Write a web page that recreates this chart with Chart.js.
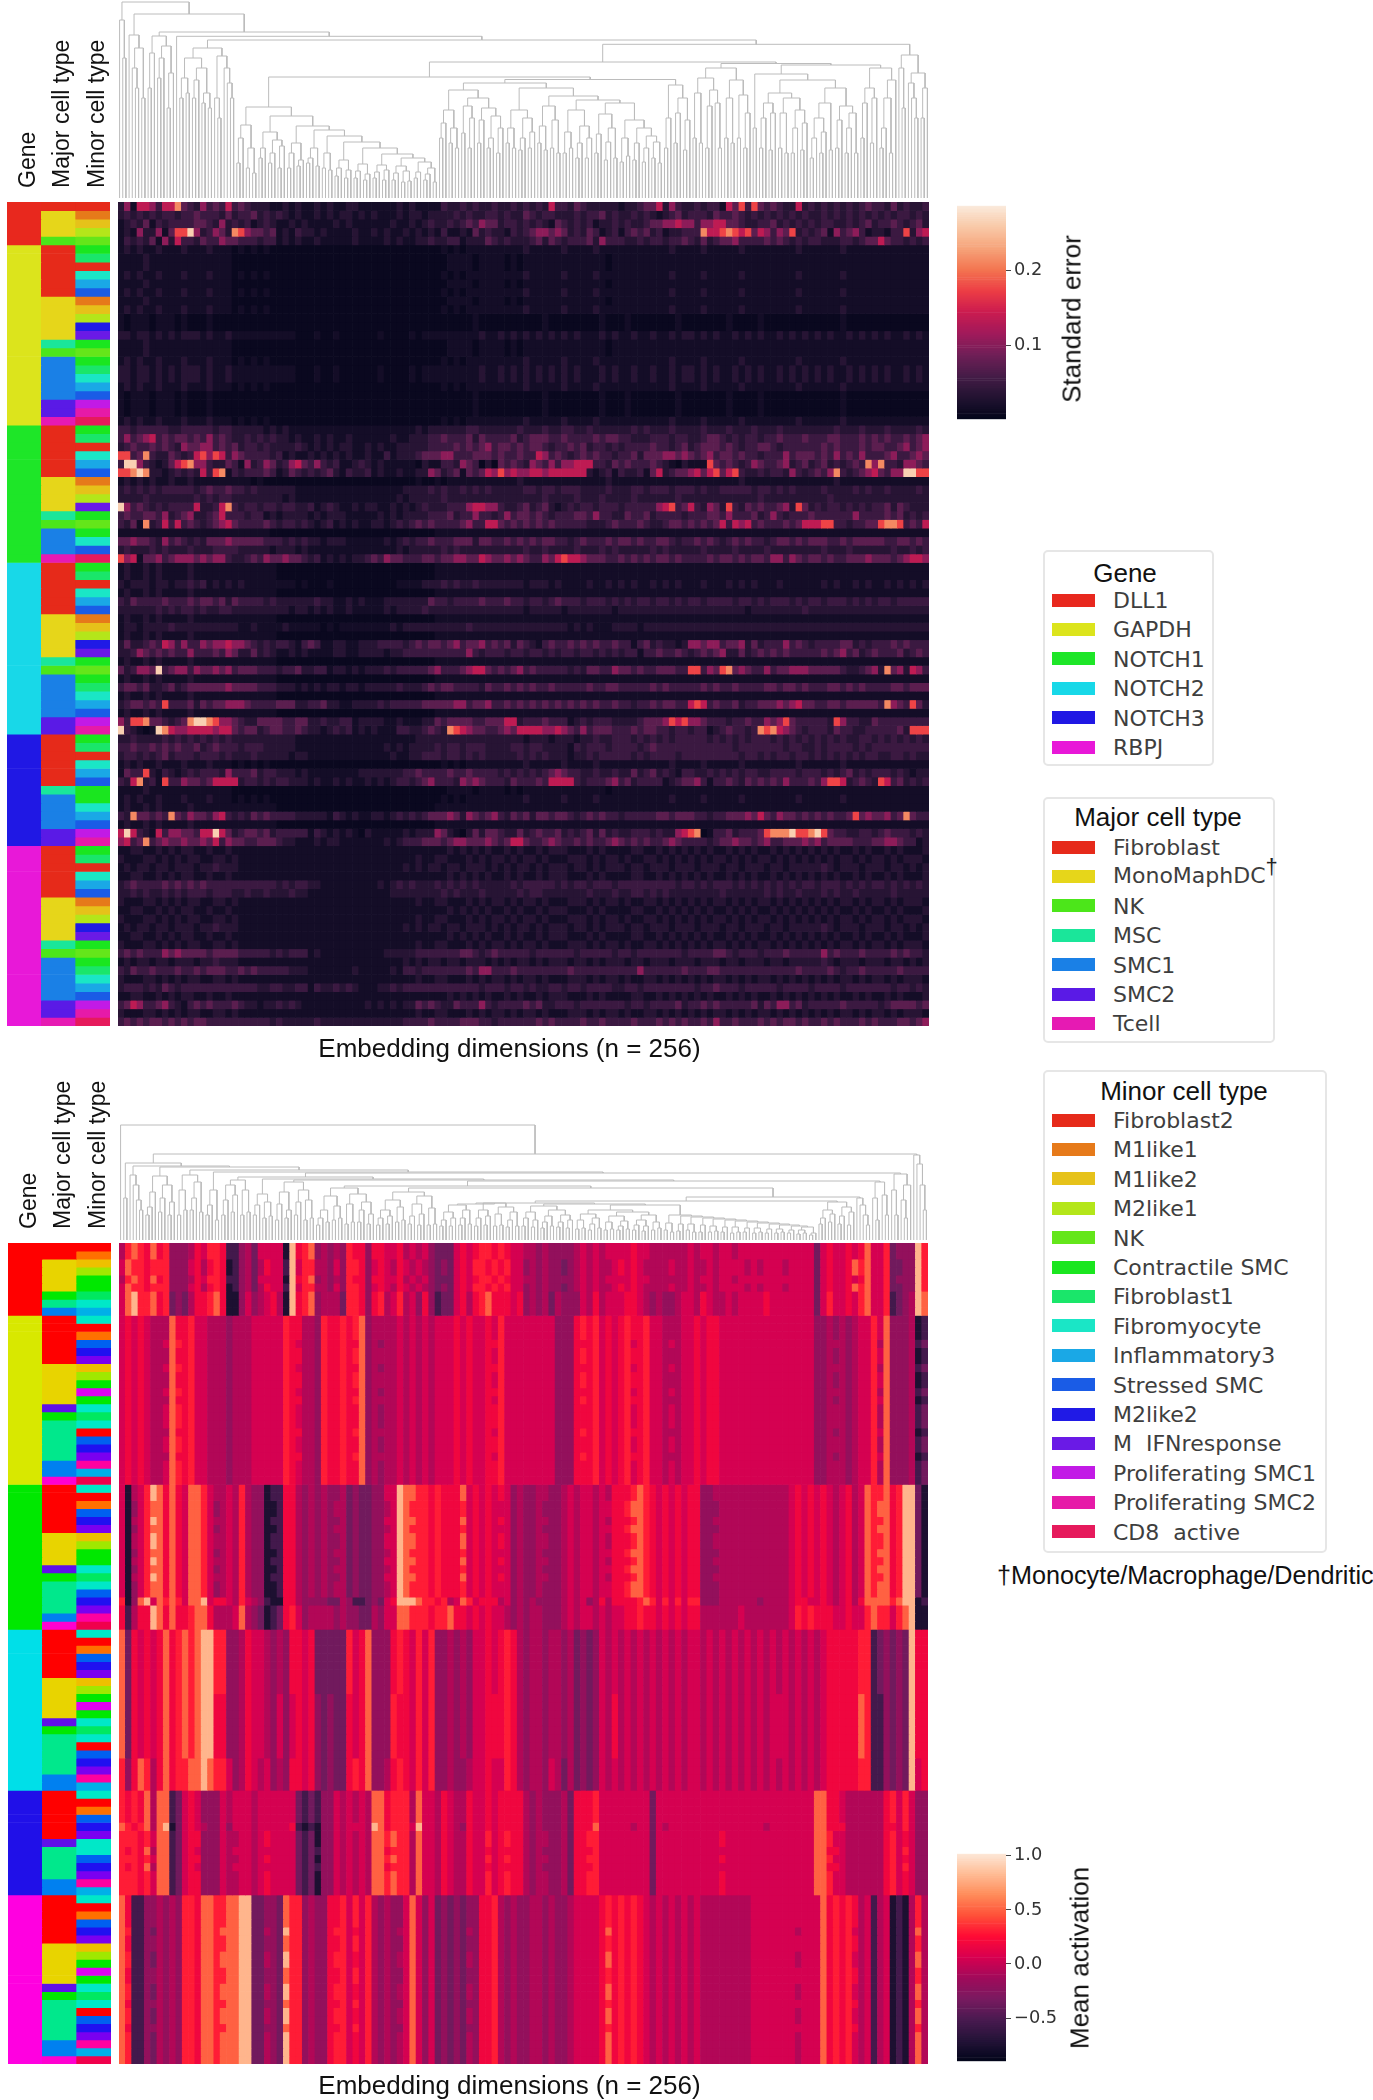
<!DOCTYPE html>
<html><head><meta charset="utf-8">
<style>
html,body{margin:0;padding:0;background:#fff;width:1373px;height:2100px;overflow:hidden}
canvas{position:absolute;display:block}
canvas.soft{filter:blur(.55px)}
.lg{position:absolute;box-sizing:border-box;border:2px solid #e6e6e6;border-radius:5px;background:#fff}
.lt{position:absolute;font:26px "Liberation Sans",Arial,sans-serif;color:#111;white-space:nowrap;transform:translate(-50%,-50%)}
.sw{position:absolute;width:43px;height:13px}
.li{position:absolute;font:22px "DejaVu Sans",sans-serif;color:#3e3e3e;white-space:pre;transform:translateY(-50%)}
.sup{font:22px "Liberation Sans",Arial,sans-serif;position:relative;top:-9px;color:#222}
.rot{position:absolute;font:26px "Liberation Sans",Arial,sans-serif;color:#111;white-space:nowrap;transform:translate(-50%,-50%) rotate(-90deg)}
.note{position:absolute;font:25.2px "Liberation Sans",Arial,sans-serif;color:#111;white-space:nowrap;transform:translateY(-50%)}
</style></head><body>
<script src="https://cdn.jsdelivr.net/npm/chart.js@4/dist/chart.umd.js"></script>
<script>
// ---------- categories ----------
const genes=["DLL1","GAPDH","NOTCH1","NOTCH2","NOTCH3","RBPJ"];
const majorTypes=["Fibroblast","MonoMaphDC","NK","MSC","SMC1","SMC2","Tcell"];
const minorTypes=["Fibroblast2","M1like1","M1like2","M2like1","NK","Contractile SMC","Fibroblast1","Fibromyocyte","Inflammatory3","Stressed SMC","M2like2","M  IFNresponse","Proliferating SMC1","Proliferating SMC2","CD8  active"];
const sideLabels=["Gene","Major cell type","Minor cell type"];
const xAxisTitle="Embedding dimensions (n = 256)";
const noteText="†Monocyte/Macrophage/Dendritic";
const geneColors=["#e8281e","#dce41c","#1ee628","#18d8e8","#2018e4","#e818d8"];
const majorColors=["#e62a1a","#e6d61a","#4ce61a","#1ae69a","#1a80e6","#5a1ae6","#e61ab3"];
const minorColors=["#e62a1a","#e67a1a","#e6c21a","#b4e61a","#64e61a","#1ae61f","#1ae66a","#1ae6c6","#1aa8e6","#1a5ce6","#201ae6","#6a1ae6","#c21ae6","#e61aa8","#e61a5c"];
const geneColorsB=["#ff0000","#d8e800","#00e800","#00dfe8","#2010e8","#ff00e0"];
const majorColorsB=["#ff0000","#e8d400","#00e800","#00e88c","#0080f0","#6010e8","#ff00d0"];
const minorColorsB=["#ff0000","#ff7000","#eec000","#a0e800","#40e800","#00e800","#00e860","#00e8c8","#00b0e8","#0060f0","#2010f0","#7a00f0","#e000f0","#ff00a0","#f0004c"];

// ---------- row annotations: top map ----------
const topGeneCounts=[5,21,16,20,13,21];
const topMajor=[0,1,1,1,2, 0,0,0,0,0,0,1,1,1,1,1,3,2,4,4,4,4,4,5,5,6, 0,0,0,0,0,0,1,1,1,1,3,2,4,4,4,6, 0,0,0,0,0,0,1,1,1,1,1,3,2,4,4,4,4,4,5,5, 0,0,0,0,0,0,3,4,4,4,4,5,5, 0,0,0,0,0,0,1,1,1,1,1,3,2,4,4,4,4,4,5,5,6];
const topMinor=[0,1,2,3,4, 5,6,0,7,8,9,1,2,3,10,11,5,4,5,6,7,8,9,12,13,14, 5,6,0,7,8,9,1,2,3,11,5,4,5,7,9,14, 5,6,0,7,8,9,1,2,3,10,11,5,4,5,6,7,8,9,12,13, 5,6,0,7,8,9,5,5,7,8,9,12,13, 5,6,0,7,8,9,1,2,3,10,11,5,4,5,6,7,8,9,12,13,14];
// ---------- row annotations: bottom map ----------
const botGeneCounts=[9,21,18,20,13,21];
const botMajor=[0,0,1,1,1,1,2,3,4, 0,0,0,0,0,0,1,1,1,1,1,5,2,3,3,3,3,3,4,4,6, 0,0,0,0,0,0,1,1,1,1,5,2,3,3,3,3,4,6, 0,0,0,0,0,0,1,1,1,1,1,5,2,3,3,3,3,3,4,4, 0,0,0,0,0,0,5,3,3,3,3,4,4, 0,0,0,0,0,0,1,1,1,1,1,5,2,3,3,3,3,3,4,4,6];
const botMinor=[0,1,2,3,5,5,6,7,8, 7,0,1,9,10,11,2,3,5,12,5,7,6,7,0,9,10,11,13,8,14, 7,0,1,9,10,11,2,3,5,5,7,6,7,9,10,11,13,14, 7,0,1,9,10,11,2,3,5,12,5,7,6,7,0,9,10,11,13,8, 7,0,1,9,10,11,7,7,9,10,11,13,8, 7,0,1,9,10,11,2,3,5,12,5,7,6,7,0,9,10,11,13,8,14];

// ---------- standard error map: estimated level per cell (0 low .. 9 high), 128 binned dimensions ----------
const seLevels=[.007,.017,.034,.05,.073,.104,.135,.175,.213,.264];
const Ga="1111211111 1111111100 0000000000 0000000000 0000000000 0011110111 1010111111 1111111011 1111111111 1111111111 1111111111 1111111111 11111111";
const Gb="1011101110 1000100000 0000000000 0000000000 0000000000 0000001000 0000000100 0000001000 1000000010 0000001000 0100000000 0000100000 00000000";
const Gc="2212212121 2221211211 1111111100 0100100000 0100001011 1111111211 2121212121 2121112121 1211211212 2121211212 1211212121 2121121212 12112121";
const Gd="1212112111 2111211101 0101000000 0000000000 0000000000 0101011111 1111211111 2111121111 1111111211 1121111121 1111111211 1111211111 11111111";
const Ha="1211212111 1211111111 1111100000 0000000000 0000000000 1111111111 1111111111 1111111111 1111111111 1111111111 1111111111 1111111111 11111111";
const Ra="1212212212 2212232221 1111111111 1111111111 1111121212 2122122212 1212212122 2122121222 1221222122 2122212212 2212212222 2321222122 21221212";
const Rb="1122112121 2211211211 1111111111 1111111111 1111111111 1121212121 1212112122 2111212111 1221121212 1212112121 2112121212 1212112121 12121112";
const Rc="2111221212 1221122121 1111111111 1111111111 1111111211 2211121212 2121221211 1222121221 2112212121 2121221212 1221212121 2121221212 21212221";
const dll1Rows=[
"2516653668 4325343634 3222112121 1212112211 1111212111 1322323223 2232323263 3243222221 2234462532 2323316473 7434322623 2323232343 32423223",
"2323232332 3343332423 3423232121 1212122121 2111212212 2223232233 2322432332 2232334232 2323212342 3332433432 3232323232 2323232323 23233232",
"1232413233 3344325232 3123211212 1111212111 1112112123 2232343544 2332323214 3232312232 3223445565 5355664432 2334232323 2332232342 33432342",
"1215225147 7952354287 5443412132 2121111211 2121121212 1311214232 2132345545 4232431231 3434231223 3386678767 4653547232 3415345312 21337256",
"1323241526 3324335443 3323312121 1211111211 1121211223 2233122243 2322234243 2333425333 2232332334 3242344533 3343432323 3222332344 64332323"];
const gapdhRows=[Gd,Ga,Ga,Gd,Ga,Gd,Ga,Gd,Gb,Gb,Gc,Ga,Ga,Gd,Gc,Gc,Gd,Gb,Gb,Gb,Gd];
const notch1Rows=[
"3323333322 3333323322 2221212111 1111111111 1111111212 2222233222 2223222322 3322322222 2323222322 2232223222 3222322222 2223222322 23222232",
"3534563434 4343534322 3232322121 1212112111 1112112223 3433342433 3342344433 4333343443 3222333233 2234432323 3233433343 3344333434 34334345",
"2343343432 5445534342 3323222232 1212122112 1211222223 3334343453 4434344323 3434233232 3333433234 2344434323 3443233333 3434333434 43345345",
"7734832243 2367576354 3333231211 2121212112 1131222344 4553334443 4334336534 3234343323 3424445545 4345344343 3233353444 3435343533 34533454",
"3995321246 7855322431 5235423564 3532311232 1211111021 1332543020 4343254353 5566633243 4333432102 1117434323 5433452342 3423234385 83325543",
"7789822123 2326378132 3334312432 3234213223 1211211225 4234143465 7565566566 6666212313 2231462344 5646746732 2323325323 4358323456 43559977",
"1212121121 1211111111 1010000000 0000000000 0000000100 1011111111 1112111111 1111111211 1111111111 1111111121 1111111111 1112111111 11111111",
"2323232333 3323433433 2322222211 1111111111 1111122223 2322323232 2222332332 3332222322 2332333233 3232233333 2332323222 2322223232 23222232",
"2222322222 2232323322 2222221211 1111111111 1111212222 2322222222 2222222322 2232223222 2322222232 2222222222 2322222222 2232222222 22222222",
"9534323233 3362236832 3323323322 3123211212 2112121232 2233356655 3223423421 2323323332 3333356734 6325427324 3433452742 3233232323 34243222",
"3433443523 4522346333 2331212222 1212221111 1212122223 3342335332 3534434323 3344353322 4334233332 3334435333 4235323334 3333335333 34342323",
"3241823636 3432345643 3334323323 2123121211 2212323434 3333453366 4343434343 3333222343 3343223443 4343463656 3433343466 6773323344 78873436",
"1111111111 1111111111 1111000000 0000000000 0000000000 1111111111 1111111111 1111111111 1111111111 1111111111 1111111111 1111111111 11111111",
"4454432534 3232444544 4443332323 2212221111 1121232334 3334442443 3434343443 3234333434 4343344323 3434323434 3323443434 4433434444 43344343",
"2322232322 2322233332 2222122212 1111111111 1111212222 2323222222 2222322322 2232223232 2222323222 2232222322 2232222222 2322232222 22322323",
"7561445345 5545455322 3435445443 2312121223 4354433344 3445544654 4545433546 7665444334 3434344343 3334344343 4435535434 4343344454 44345665"];
const notch2Rows=[Ha,Ha,
"2122212212 2323121212 1111111101 0001000000 0000111122 2323223222 2222122212 1111211212 1211212121 1121112121 2111211111 1212112121 12121212",
Ha,
"3243333433 3434434243 3332322222 2322112121 1122222224 3323333433 3433233234 3332333232 3233233232 3323333233 2323332323 3233323232 33233333",
"2222223232 3323223322 2222222122 1212112111 1121222232 2222222222 2222122222 1222222212 2222222222 2222222221 2222222232 2222222222 22222222",
Ha,
"1221222232 2222222221 1211112111 1101011111 1112122222 2222232222 2222222222 2121211122 2212222222 2222222222 2222222222 2222222222 22222222",
Ha,
"2422343653 5335455655 4323233213 4311221122 2333323434 4345344534 3424321343 3434343343 3134232212 5545534452 4233353432 3333442323 33434333",
"2235434343 3533343542 2423211212 1111221122 2212233333 3333353233 3233233232 3323323232 3313343343 2343452242 3434343333 3434534234 33342343",
Ha,
"4235549345 5354454534 4433323342 2331221212 2232333334 5333456643 4345343333 3232443354 4343344433 7735478454 3353445554 4444322345 28452653",
Ha,
"3443422342 3444444544 4433322212 1212212212 2222322234 3443333243 3434343343 3333433443 3333434333 3343433433 3344344343 3344343433 33443444",
Ha,
"2344343733 3424344555 4333344422 3342211222 2323333344 4445534453 3434343434 3434343343 3233434433 6763433423 3444545644 3344344444 38543742",
Ha,
"5377844323 4899875543 2244443344 2232233122 2211211122 4344443344 4662333433 3123233322 2234445767 5543332334 3354574333 3327533224 33333333",
"9321019865 5666656643 4423443343 2212323121 2111332234 3287654433 4546666556 5435344433 3434433233 2331234332 3878654323 3324332233 33342777"];
const notch3Rows=[
"2232222323 2323232322 2222222211 1111111111 1111111222 2222222222 2222122212 2212232233 3232323233 3332323232 3332323232 3232322332 32323232",
"3343343434 3342343332 3332222211 1111111111 1121212222 3233233322 2233233222 2132333233 3323433333 3333333233 3333323322 3233332323 33333333",
"2332323423 3323332322 2322222122 1111111111 1112112233 3233232322 2223232322 2122323333 3232333323 3333333323 3232332332 3232323233 22332322",
Gd,
"1433721321 2323332533 3423322212 1111111122 2222233433 3343343333 2323232345 4332232232 2423423213 3223232323 3223333233 3232342323 33232122",
"3268231733 5443466662 3323233222 1211212112 1212332345 3332545433 3243334366 6632333453 4233331234 4531334324 3434353334 3577623432 76342323",
Ga,Gd,Ha,
"3284434384 3544356323 2434333322 2221321211 2212323234 4454254345 3243424434 4323434332 3333344344 4332334445 4643544343 4343347454 45348433",
Ha,
"6963216355 4436696423 4434233333 1321212102 1111121222 5421024244 3224234334 2323424232 2333232256 7801334233 3478889778 9743322332 34333232",
"5634834544 5445463544 3344432211 1212211111 1121233344 4345544454 3466433454 3343433454 3434334543 3332344544 3453344454 5344443334 45543312"];
const rbpjRows=[Rb,Rc,Ra,Rb,
"2343333434 3434333333 3333323233 2211111111 1212323222 3232323222 2232333332 3233233323 3333333323 3232333232 3232323233 2333232323 32323232",
"2232322323 2333233322 3223222322 1111111111 1112222222 2323222322 2223233222 2222322232 2332323222 2222232222 2232322322 2323223222 22322222",
Rc,Rb,Rc,Ra,Rb,Rc,
"3434333545 4444344443 3333232333 1211111111 1122222333 3333443234 3333323333 3323333323 3233333332 3333443233 3233343333 3534333433 33434332",
Ra,
"3243343334 3343444334 3433333222 1111111211 1112133233 3333343553 3343333333 3433333333 3353333334 3334433333 3333333433 3343233433 33343333",
Rc,
"2333232432 3333333333 3322332233 1322323211 1223233333 3333333233 3233232233 2332333322 3323333333 3233433323 3333233332 3333233333 33233232",
Rb,
"3465334532 1343433343 2212232321 1111111112 1212122434 3224333532 3333434223 3323333333 2332333342 3343433333 4243553423 3333433333 23444434",
Rc,
"3434344343 4344333333 3333232222 2322222222 2222233334 3333444332 3333334343 3334334333 3433343434 3343533433 3434344343 3434333434 33344345"];

// ---------- mean activation map: estimated level per cell, per gene block ----------
const actLevels=[-.75,-.55,-.36,-.2,-.07,.05,.18,.3,.5,.8];
const D1="4787686733 3465776113 4255550967 8343437663 6655645453 2225656776 7655443433 3345454555 5655444444 5455455455 5555555555 2565565685 57233397";
const D2="5877677733 3564676013 4246551957 7443537763 5654654543 2325657767 6755343433 2345454456 5654444544 5445455554 5455545555 2565568785 57223397";
const D3="5897786723 2466786003 5345640967 8344427763 6745745363 1225646786 6656343424 3335464555 6654343345 5465445455 5565555555 2575565785 57123498";
const G1="5656544486 6755444344 4555557664 4376676783 4444545454 5556565565 7555555553 3367675656 7667554445 5656655555 5555555555 3343434557 58333401";
const G2="5656544587 6755444344 4555557654 4376676683 4344545454 5556565566 7555555553 3366675656 7567554545 5656655555 5555555555 3344434557 48333412";
const N1="5045798686 5887544547 4330116643 4343342322 3355988776 7666856565 6534334433 4545545466 6787656565 6633444444 4444445656 5654564587 78679920";
const N2="7038958787 5889566547 5431006643 3332243112 3256999877 6745875666 4534343333 4545346466 6678757575 7733344444 4344445665 5654564688 88789901";
const N3="6146698686 6788644458 4320126753 4444343322 4355887776 7786656565 5434344333 4545545455 6676656565 6644444454 4444445767 6665565578 77578900";
const N4="5035788686 5887534547 4330016643 4343442322 3345987776 7666756565 5534334333 4545545566 7887656565 6633344444 4444445656 5654564587 88679920";
const H1="8265656867 8789977334 6554343665 6222227568 3336765757 3343435565 6764344344 3423235454 5454545454 5545454545 4545454545 4566666771 23232966";
const H2="8265656867 8789966334 6554353565 6323226568 3337665757 3343435566 6764344344 3423235464 5454545454 5545454545 4545554545 4566666871 13232966";
const H3="7368746867 7889877534 6545343665 6323226768 3346765757 3343345565 5764344354 2423235454 5454545454 5545454545 4545454545 4566666771 13232956";
const T1="7676848812 5653335455 5455555521 2133545454 8867774855 4654465565 6666434333 4266675555 5555255555 5555555555 5555555555 8866544444 46757533";
const T2="8767848902 5654335355 5455555610 1033545554 9867775955 4654365565 6666434333 4266685555 5455254555 5555555555 5545555555 8866644444 46657533";
const T3="7776758812 5663335445 5456555521 2033545454 8878774855 4654465575 6766434433 4266775555 5555255555 5555565555 5555555555 8875544444 46756533";
const R1="8611334343 7768877889 9223328773 4336675757 4343358535 2323233667 4343344343 3455556767 6765454545 4544444444 5555555555 5867676451 45010474";
const R2="8711324343 7768878889 9224329773 4336775657 4343458535 2323243667 4343344343 3455556867 6765454545 4544444444 5555555455 5867675451 45010484";
const actRows=[D1,D1,D2,D2,D1,D2,D3,D3,D3,
 G1,G1,G1,G2,G1,G1,G2,G1,G1,G2,G1,G2,G2,G2,G1,G2,G2,G1,G2,G2,G2,
 N1,N1,N4,N4,N1,N4,N1,N1,N4,N1,N4,N1,N4,N4,N2,N3,N3,N3,
 H1,H1,H1,H1,H1,H1,H1,H1,H2,H2,H2,H2,H2,H2,H2,H2,H3,H3,H3,H3,
 T1,T1,T1,T1,T2,T3,T3,T1,T3,T1,T3,T3,T3,
 R1,R1,R1,R1,R2,R1,R1,R2,R2,R1,R1,R2,R2,R1,R2,R2,R1,R2,R2,R2,R2];
const seRows=[...dll1Rows,...gapdhRows,...notch1Rows,...notch2Rows,...notch3Rows,...rbpjRows];

// ---------- dendrograms: [merge height, left, right]; a number is a pair merged at that height, 0 a single leaf ----------
const topTree=[196,[178,0,140],[184,[163,0,[150,[130,0,110],100]],[166,[162,[145,110,0],[152,[140,120,0],[125,90,0]]],[161.7,0,[158,
 [150,[140,[120,100,105],[130,[118,100,0],[105,95,90]]],[142,[100,0,80],[130,0,[115,0,[100,0,0]]]]],
 [153.7,[136,[121,
   [91,[73,[60,35,0],[50,30,25]],[82,[66,[50,40,0],[58,[45,35,0],[52,30,0]]],[72,[55,[45,30,0],[38,32,0]],[68,[50,[40,35,0],32],[62,[45,30,28],[56,[38,[30,22,0],[28,20,0]],[50,[34,[27,20,0],[24,18,0]],[44,[33,[26,20,0],[28,18,0]],[40,[32,[25,18,0],[27,16,17]],[36,[26,20,0],[30,[24,18,0],16]]]]]]]]]]],
   [118.5,[115,
     [108,[88,[75,60,0],[70,55,50]],[100,[92,65,[80,50,0]],[90,[78,55,0],[82,[60,50,0],[70,45,0]]]]],
     [110,[88,[70,55,50],[80,[60,48,0],[66,50,0]]],[102,[92,[72,55,48],[78,50,45]],[98,[88,[66,45,50],[72,[55,40,0],[60,40,0]]],[95,[84,[64,45,0],[70,[56,38,0],40]],[78,[60,36,42],[70,[55,38,0],[62,[50,36,0],[56,40,35]]]]]]]]],
    [113,[80,50,0],[100,[85,55,0],[78,48,0]]]]],
  [134.5,[130,[120,[105,60,55],[108,[92,50,0],[95,0,50]]],[118,[100,60,55],[103,60,[85,50,0]]]],
   [133,[124,70,[118,[105,[95,[80,50,0],[85,48,0]],[100,[85,50,45],[88,[70,45,0],[75,48,0]]]],[110,[95,[80,[60,40,0],[66,45,0]],48],[92,[78,50,0],[85,[70,45,0],45]]]]],
    [130,[110,[95,60,0],[100,55,0]],[118,[100,[70,50,0],45],0]]]]],
  [143,[130,0,90],[125,[115,0,[100,0,80]],[110,80,0]]]]]]]]];
const botStair=[25,[17,10,8],[24,[16,9,0],[23,[16,10,8],[22,[15,8,0],[21,[14,8,9],[20,[13,8,0],[19,[13,7,8],[18,[12,8,0],[17,[12,7,8],[16,[11,7,0],[15,[11,7,8],[14,[10,7,0],[13,[10,6,7],[7,5,0]]]]]]]]]]]]]];
const botTree=[115,0,[86,[77,42,[74,[65,0,[55,0,[40,0,30]]],[73,[64,[48,[33,25,0],0],[55,[42,28,0],[38,25,0]]],[70,[65,[50,25,30],[58,[42,30,0],28]],[68,[50,[35,25,0],20],[67,
 [63,[60,[55,[40,25,0],[45,28,0]],[50,25,28]],[61,[46,[35,25,0],[38,22,24]],[60,[58,[48,[36,20,0],[30,22,0]],[50,[38,25,0],[40,20,22]]],[59,
  [54,[52,[44,[30,[22,15,0],18],[34,20,22]],[46,[36,16,18],[38,[30,18,0],[26,16,0]]]],[52,[48,[40,[30,[22,15,0],[24,16,0]],[33,18,20]],[44,[36,[24,16,0],[26,15,0]],[32,15,16]]],[43,[39,[37,
    [36,[35,[28,[20,14,0],[22,14,0]],[30,[22,15,0],16]],[37,[30,[22,14,0],[24,15,0]],[33,[26,14,15],[28,[20,13,0],14]]]],
    [36,[34,[28,[22,14,0],[20,13,0]],[30,[24,[18,12,0],14],[25,[18,13,0],[20,12,0]]]],
     [35,[30,[26,[20,11,12],[22,[16,10,0],12]],[28,[24,[18,10,11],[19,[14,10,0],11]],[25,[20,[15,10,0],[14,9,0]],[18,10,12]]]],botStair]]],
    [38,[30,[22,16,0],[26,18,0]],[33,[24,16,0],[28,15,0]]]],
    [42,0,[35,0,[25,0,15]]]]]],
  [58,[42,0,20],[45,0,25]]]]]],
 [66,[50,0,25],[55,[40,0,22],0]]]]]]]],
 [85,0,[76,0,[55,0,30]]]]];

// ---------- colour maps ----------
const seStops=["#03051a","#221331","#451c47","#701f57","#a11a5b","#cb1b4f","#ed3e45","#f37651","#f6a47b","#f9c9a8","#faebdd"];
const actStops=["#03051a","#241338","#4a1a50","#7a1a60","#a00a5a","#d80050","#ff0a35","#ff5038","#ff8c5a","#ffbc95","#fde8d8"];
const seRange=[.001,.287], actRange=[-.9,1.02];
const seTicks=[.1,.2], actTicks=[-.5,0,.5,1];

function hex(c){return [1,3,5].map(i=>parseInt(c.substr(i,2),16));}
function cmap(stops,range,v){
  let t=(v-range[0])/(range[1]-range[0]);t=Math.max(0,Math.min(.9999,t))*(stops.length-1);
  const i=Math.floor(t),f=t-i,a=hex(stops[i]),b=hex(stops[i+1]);
  return `rgb(${a.map((x,k)=>Math.round(x+(b[k]-x)*f)).join(",")})`;
}
function expand(counts){const o=[];counts.forEach((n,i)=>{for(let k=0;k<n;k++)o.push(i);});return o;}

Chart.defaults.animation=false;
Chart.defaults.responsive=false;
Chart.defaults.plugins.legend.display=false;
Chart.defaults.plugins.tooltip.enabled=false;
const SANS='"Liberation Sans",Arial,sans-serif';

function canvas(l,t,w,h,soft){
  const c=document.createElement("canvas");c.width=w;c.height=h;
  c.style.left=l+"px";c.style.top=t+"px";c.style.width=w+"px";c.style.height=h+"px";
  if(soft)c.className="soft";document.body.appendChild(c);return c;
}
const noPad={padding:0,autoPadding:false};

function heat(l,t,w,h,below,titleTop,titleBottom,titleShift,rows,levels,stops,range){
  const cols=128,labels=Array.from({length:cols},(_,i)=>i+1);
  const datasets=rows.map(r=>{
    const s=r.replace(/ /g,"");
    const bg=labels.map((_,i)=>cmap(stops,range,levels[+(s[i]||s[s.length-1])]));
    return {data:labels.map(()=>1),backgroundColor:bg,borderWidth:0,barPercentage:1,categoryPercentage:1};
  });
  new Chart(canvas(l,t,w,h+below,true),{type:"bar",data:{labels,datasets},
    plugins:[{id:"titleShift",afterLayout(c){const b=c.titleBlock;b.left-=titleShift;b.right-=titleShift;}}],
    options:{layout:noPad,
    plugins:{title:{display:true,position:"bottom",text:xAxisTitle,color:"#111",font:{family:SANS,size:26,lineHeight:1.2,weight:"normal"},padding:{top:titleTop,bottom:titleBottom}}},
    scales:{x:{stacked:true,display:false},y:{stacked:true,display:false,reverse:true,min:0,max:rows.length}}}});
}

function side(l,t,w,h,headH,geneIdx,majorIdx,minorIdx,gc,mc,nc){
  const datasets=geneIdx.map((g,i)=>({data:[1,1,1],backgroundColor:[gc[g],mc[majorIdx[i]],nc[minorIdx[i]]],borderWidth:0,barPercentage:1,categoryPercentage:1}));
  new Chart(canvas(l,t,w,h+headH),{type:"bar",data:{labels:sideLabels,datasets},options:{layout:noPad,scales:{
    x:{position:"top",stacked:true,grid:{display:false,drawTicks:false},border:{display:false},
       ticks:{minRotation:90,maxRotation:90,autoSkip:false,padding:14,labelOffset:32,color:"#111",font:{family:SANS,size:23}},
       afterFit(s){s.height=headH;s.paddingLeft=0;s.paddingRight=0;s.paddingTop=0;s.paddingBottom=0;}},
    y:{stacked:true,display:false,reverse:true,min:0,max:geneIdx.length}}}});
}

function dendro(l,t,w,h,maxH,tree){
  let next=0;const pts=[];
  function link(x1,h1,x2,h2,top){pts.push({x:x1,y:h1},{x:x1,y:top},{x:x2,y:top},{x:x2,y:h2},{x:x2,y:NaN});}
  function walk(n){
    if(n===0){return {x:next++ +.5,h:0};}
    let a,b,top;
    if(typeof n==="number"){a={x:next++ +.5,h:0};b={x:next++ +.5,h:0};top=n;}
    else{top=n[0];a=walk(n[1]);b=walk(n[2]);}
    link(a.x,a.h,b.x,b.h,top);return {x:(a.x+b.x)/2,h:top};
  }
  walk(tree);
  new Chart(canvas(l,t,w,h,true),{type:"scatter",data:{datasets:[{data:pts,showLine:true,spanGaps:false,pointRadius:0,borderColor:"#bcbcbc",borderWidth:1}]},
    options:{layout:noPad,scales:{x:{type:"linear",display:false,min:0,max:next},y:{type:"linear",display:false,min:0,max:maxH}}}});
}

function colorbar(l,t,w,h,stops,range,ticks,fmt){
  const n=110,step=(range[1]-range[0])/n;
  const datasets=[];
  for(let i=0;i<n;i++){const lo=range[0]+step*i;datasets.push({data:[[lo,lo+step]],backgroundColor:cmap(stops,range,lo+step/2),borderWidth:0,barPercentage:1,categoryPercentage:1});}
  new Chart(canvas(l,t-12,w,h+24),{type:"bar",data:{labels:[""],datasets},options:{layout:{padding:{top:12,bottom:12},autoPadding:false},scales:{
    x:{stacked:true,display:false},
    y:{position:"right",min:range[0],max:range[1],grid:{drawOnChartArea:false,tickLength:5,tickColor:"#444"},border:{display:false},
       ticks:{padding:3,color:"#333",font:{family:'"DejaVu Sans",sans-serif',size:17.8},callback:fmt},
       afterBuildTicks(s){s.ticks=ticks.map(v=>({value:v}));},afterFit(s){s.width=w-49;}}}}});
}

// --- top panel
dendro(118,0,811,198,198,topTree);
side(7,30,103,824,172,expand(topGeneCounts),topMajor,topMinor,geneColors,majorColors,minorColors);
heat(118,202,811,824,40,8.7,.1,14,seRows,seLevels,seStops,seRange);
colorbar(957,204,120,217,seStops,seRange,seTicks,v=>v.toFixed(1));
// --- bottom panel
dendro(119,1120,809,120,120,botTree);
side(8,1070,103,821,173,expand(botGeneCounts),botMajor,botMinor,geneColorsB,majorColorsB,minorColorsB);
heat(119,1243,809,821,39,7.4,.4,14,actRows,actLevels,actStops,actRange);
colorbar(957,1852,120,211,actStops,actRange,actTicks,v=>(v<0?"−":"")+Math.abs(v).toFixed(1));

// --- text outside the charts
function rot(text,x,y){const d=document.createElement("div");d.className="rot";d.textContent=text;d.style.left=x+"px";d.style.top=y+"px";document.body.appendChild(d);}
rot("Standard error",1072,319);
rot("Mean activation",1080,1958);
function legend(title,names,colors,box,titleX,titleY,firstY){
  const b=document.createElement("div");b.className="lg";
  b.style.cssText=`left:${box[0]}px;top:${box[1]}px;width:${box[2]}px;height:${box[3]}px`;document.body.appendChild(b);
  const add=(cls,css,html)=>{const d=document.createElement("div");d.className=cls;d.style.cssText=css;d.innerHTML=html;document.body.appendChild(d);};
  add("lt",`left:${titleX}px;top:${titleY}px`,title);
  names.forEach((n,i)=>{
    const y=firstY+i*29.4;
    add("sw",`left:1052px;top:${y-6.5}px;background:${colors[i]}`,"");
    add("li",`left:1113px;top:${y}px`,n==="MonoMaphDC"?n+'<span class="sup">†</span>':n);
  });
}
legend("Gene",genes,geneColors,[1043,550,171,216],1125,573,600);
legend("Major cell type",majorTypes,majorColors,[1043,797,232,246],1158,817,847);
legend("Minor cell type",minorTypes,minorColors,[1043,1070,284,483],1184,1091,1120);
const note=document.createElement("div");note.className="note";note.textContent=noteText;note.style.left="997px";note.style.top="1575px";document.body.appendChild(note);
</script>
</body></html>
